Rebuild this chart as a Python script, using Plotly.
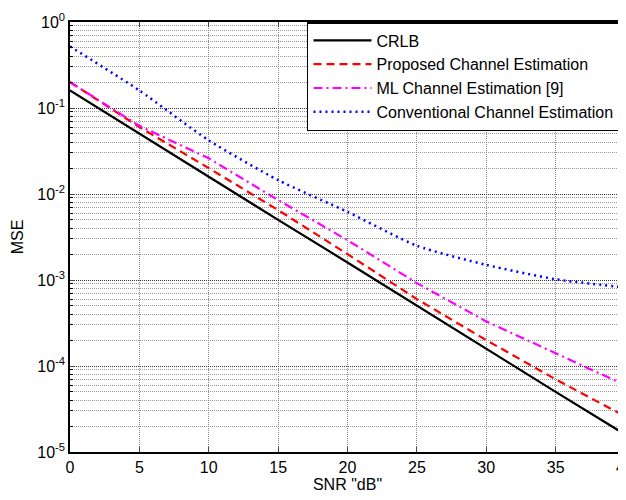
import plotly.graph_objects as go

snr = [0, 5, 10, 15, 20, 25, 30, 35, 40]
crlb = [0.16, 0.05, 0.016, 0.005, 0.0016, 0.0005, 0.00016, 0.00005, 0.000016]
proposed = [0.2, 0.06, 0.02, 0.0065, 0.002, 0.0006, 0.0002, 0.00007, 0.000026]
ml = [0.2, 0.062, 0.026, 0.0085, 0.0029, 0.00092, 0.00033, 0.00014, 0.00006]
conventional = [0.52, 0.16, 0.042, 0.0145, 0.0062, 0.0025, 0.0015, 0.00102, 0.00082]

names = ["CRLB", "Proposed Channel Estimation", "ML Channel Estimation [9]",
         "Conventional Channel Estimation"]
ytickvals = [1e-5, 1e-4, 1e-3, 1e-2, 1e-1, 1e0]
yticktext = ["10<sup>-5</sup>", "10<sup>-4</sup>", "10<sup>-3</sup>",
             "10<sup>-2</sup>", "10<sup>-1</sup>", "10<sup>0</sup>"]
xtickvals = [0, 5, 10, 15, 20, 25, 30, 35, 40]

font = "Liberation Sans, Arial, sans-serif"

fig = go.Figure()
fig.add_trace(go.Scatter(x=snr, y=crlb, mode="lines", name=names[0],
                         line=dict(color="black", width=2.2)))
fig.add_trace(go.Scatter(x=snr, y=proposed, mode="lines", name=names[1],
                         line=dict(color="#ff0000", width=2.2, dash="8px,5px")))
fig.add_trace(go.Scatter(x=snr, y=ml, mode="lines", name=names[2],
                         line=dict(color="#ff00ff", width=2.2, dash="9px,4px,2px,4px")))
fig.add_trace(go.Scatter(x=snr, y=conventional, mode="lines", name=names[3],
                         line=dict(color="#0000ff", width=2.5, dash="2px,4px",
                                   shape="spline", smoothing=0.6)))

fig.update_layout(
    width=626, height=500,
    margin=dict(l=62, r=9, t=14, b=56, autoexpand=False),
    paper_bgcolor="white", plot_bgcolor="white",
    font=dict(family=font, size=16, color="black"),
    showlegend=True,
    legend=dict(x=0.427, xanchor="left", y=1, yanchor="top",
                bgcolor="white", bordercolor="black", borderwidth=1.5,
                font=dict(size=16, family=font, color="black"),
                itemwidth=58, tracegroupgap=0),
    xaxis=dict(range=[0, 40], tickvals=xtickvals, ticks="inside", ticklen=5,
               showline=True, linecolor="black", linewidth=1.5, mirror="ticks",
               showgrid=True, gridcolor="#888888", griddash="1px,1px", gridwidth=1,
               zeroline=False, automargin=False,
               title=dict(text='SNR "dB"', standoff=2, font=dict(size=16))),
    yaxis=dict(type="log", range=[-5, 0], tickvals=ytickvals, ticktext=yticktext,
               ticks="inside", ticklen=5,
               showline=True, linecolor="black", linewidth=1.5, mirror="ticks",
               showgrid=True, gridcolor="#333333", griddash="1px,1px", gridwidth=1.2,
               zeroline=False, automargin=False,
               minor=dict(dtick="D1", ticks="inside", ticklen=3, tickcolor="black",
                          showgrid=True, gridcolor="#999999", griddash="1px,1px", gridwidth=1),
               title=dict(text="MSE", standoff=10, font=dict(size=16))),
)

fig.write_html("out.html")
